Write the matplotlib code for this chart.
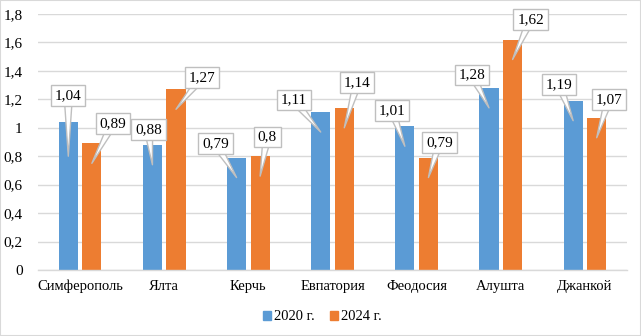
import matplotlib

matplotlib.use("Agg")
import matplotlib.pyplot as plt
from matplotlib.patches import Patch, Rectangle

cities = ["Симферополь", "Ялта", "Керчь", "Евпатория", "Феодосия", "Алушта", "Джанкой"]
vals_2020 = [1.04, 0.88, 0.79, 1.11, 1.01, 1.28, 1.19]
vals_2024 = [0.89, 1.27, 0.8, 1.14, 0.79, 1.62, 1.07]
series_names = ["2020 г.", "2024 г."]
yticks = [0, 0.2, 0.4, 0.6, 0.8, 1.0, 1.2, 1.4, 1.6, 1.8]

# callout layout: box offset from pointer tip (pixels), tip depth below bar top
off_2020 = [(0, 61), (-4, 35), (-21, 34), (-27, 32), (-13, 36), (-17, 33), (-14, 36)]
off_2024 = [(21, 40), (26, 32), (7, 39), (13, 45), (11, 35), (18, 40), (12, 38)]
depth_2020 = [0.24, 0.14, 0.14, 0.14, 0.14, 0.14, 0.14]
depth_2024 = [0.14] * 7

BLUE = "#5B9BD5"
ORANGE = "#ED7D31"
GRID = "#D9D9D9"
FONT = "Liberation Serif"


def fmt(v):
    return f"{v:g}".replace(".", ",")


fig = plt.figure(figsize=(6.41, 3.36), dpi=100)
fig.patches.append(Rectangle((0, 0), 1, 1, transform=fig.transFigure,
                             fill=False, edgecolor=GRID, linewidth=1.5))
ax = fig.add_axes([38 / 641, 66 / 336, 589 / 641, 256 / 336])

x = list(range(len(cities)))
w = 0.226
d = 0.14
xb = [i - d for i in x]
xo = [i + d for i in x]
ax.bar(xb, vals_2020, width=w, color=BLUE, zorder=2)
ax.bar(xo, vals_2024, width=w, color=ORANGE, zorder=2)

ax.set_xlim(-0.5, len(cities) - 0.5)
ax.set_ylim(0, 1.8)
ax.set_yticks(yticks)
ax.set_yticklabels([fmt(t) for t in yticks], fontfamily=FONT, fontsize=11)
ax.set_xticks(x)
ax.set_xticklabels(cities, fontfamily=FONT, fontsize=10.5)
ax.tick_params(axis="both", length=0)
ax.tick_params(axis="y", pad=11)
ax.tick_params(axis="x", pad=7)
ax.grid(axis="y", color=GRID, linewidth=1, zorder=0)
for s in ["top", "right", "left"]:
    ax.spines[s].set_visible(False)
ax.spines["bottom"].set_color(GRID)
ax.spines["bottom"].set_linewidth(1)

for xs, vs, offs, deps in [(xb, vals_2020, off_2020, depth_2020),
                           (xo, vals_2024, off_2024, depth_2024)]:
    for xi, v, (dx, dy), dp in zip(xs, vs, offs, deps):
        ax.annotate(
            fmt(v), xy=(xi, v - dp), xytext=(dx, dy), textcoords="offset pixels",
            ha="center", va="center", fontfamily=FONT, fontsize=11, zorder=5,
            bbox=dict(boxstyle="square,pad=0.25", facecolor="white",
                      edgecolor="#BFBFBF", linewidth=1),
            arrowprops=dict(arrowstyle="wedge,tail_width=0.55,shrink_factor=0.5",
                            facecolor="white", edgecolor="#BFBFBF", linewidth=1,
                            shrinkA=0, shrinkB=0, patchA=None),
        )

handles = [Patch(color=BLUE), Patch(color=ORANGE)]
fig.legend(handles, series_names, loc="center", bbox_to_anchor=(0.503, 19 / 336),
           ncol=2, frameon=False, prop={"family": FONT, "size": 10.5},
           handlelength=0.55, handleheight=0.55, handletextpad=0.25,
           columnspacing=1.0)

fig.savefig("out.png", dpi=100)
